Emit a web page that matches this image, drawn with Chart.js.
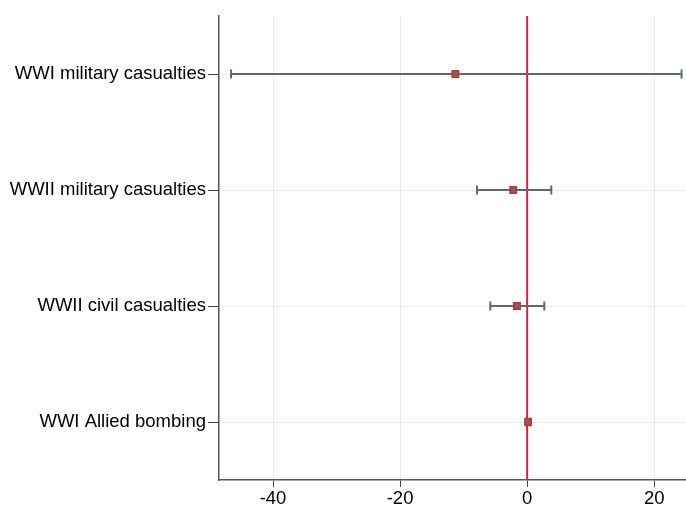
<!DOCTYPE html>
<html lang="en">
<head>
   <meta charset="UTF-8">
   <title>Coefficient plot</title>
   <script src="https://cdn.jsdelivr.net/npm/chart.js"></script>
   <style>
      html, body { margin: 0; padding: 0; background: #fff; overflow: hidden; }
      #wrap { width: 686px; height: 507px; }
   </style>
</head>
<body>
   <div id="wrap"><canvas id="coefChart"></canvas></div>

   <script>
      // values
      const categories = ['WWI military casualties', 'WWII military casualties', 'WWII civil casualties', 'WWI Allied bombing'];
      const estimates = [-11.3, -2.2, -1.6, 0.15];
      const ciLow = [-46.6, -7.9, -5.8, -0.2];
      const ciHigh = [24.3, 3.8, 2.7, 0.5];
      const xTicks = [-40, -20, 0, 20];

      // error bars + reference line at zero
      const errorBars = {
         id: 'errorBars',
         beforeDatasetsDraw(chart) {
            const { ctx, chartArea, scales: { x, y } } = chart;
            ctx.save();
            // zero line
            const zx = x.getPixelForValue(0);
            ctx.strokeStyle = '#c8264f';
            ctx.lineWidth = 2;
            ctx.beginPath();
            ctx.moveTo(zx, chartArea.top);
            ctx.lineTo(zx, chartArea.bottom);
            ctx.stroke();
            // intervals
            ctx.strokeStyle = '#5d6b6b';
            ctx.lineWidth = 2;
            categories.forEach((c, i) => {
               const py = y.getPixelForValue(i);
               const x1 = x.getPixelForValue(ciLow[i]);
               const x2 = x.getPixelForValue(ciHigh[i]);
               ctx.beginPath();
               ctx.moveTo(x1, py);
               ctx.lineTo(x2, py);
               ctx.moveTo(x1, py - 4.5);
               ctx.lineTo(x1, py + 4.5);
               ctx.moveTo(x2, py - 4.5);
               ctx.lineTo(x2, py + 4.5);
               ctx.stroke();
            });
            ctx.restore();
         }
      };

      Chart.defaults.font.family = 'Liberation Sans, Arial, sans-serif';
      Chart.defaults.font.size = 18.5;
      Chart.defaults.color = '#000';

      const ctx = document.getElementById('coefChart').getContext('2d');
      new Chart(ctx, {
         type: 'scatter',
         data: {
            datasets: [{
               data: estimates.map((v, i) => ({ x: v, y: categories[i] })),
               pointStyle: 'rect',
               pointRadius: 4.5,
               backgroundColor: '#6b6b6b',
               borderColor: '#d42a2a',
               borderWidth: 1.5
            }]
         },
         options: {
            responsive: true,
            maintainAspectRatio: false,
            animation: false,
            layout: { autoPadding: false, padding: { top: 16, right: 0, bottom: 0, left: 0 } },
            plugins: { legend: { display: false }, tooltip: { enabled: false } },
            scales: {
               x: {
                  type: 'linear',
                  min: -48.5,
                  max: 25,
                  afterBuildTicks: s => { s.ticks = xTicks.map(v => ({ value: v })); },
                  afterFit: s => { s.height = 27; s.paddingLeft = 0; s.paddingRight = 0; },
                  grid: { color: '#e9e9e9', lineWidth: 1, tickLength: 7, tickColor: '#444' },
                  border: { color: '#555', width: 1.5 },
                  ticks: { padding: 1, maxRotation: 0 }
               },
               y: {
                  type: 'category',
                  labels: categories,
                  offset: true,
                  afterFit: s => { s.width = 219; s.paddingTop = 0; s.paddingBottom = 0; },
                  grid: { color: '#e9e9e9', lineWidth: 1, tickLength: 11, tickColor: '#444', offset: false },
                  border: { color: '#555', width: 1.5 },
                  ticks: { padding: 2 }
               }
            }
         },
         plugins: [errorBars]
      });
   </script>
</body>
</html>
